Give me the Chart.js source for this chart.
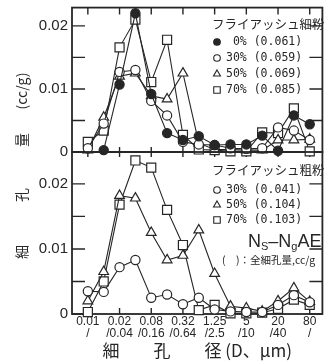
<!DOCTYPE html>
<html>
<head>
<meta charset="utf-8">
<script src="https://cdn.jsdelivr.net/npm/chart.js@4.4.1/dist/chart.umd.min.js"></script>
<style>
  html, body { margin: 0; padding: 0; background: #fff; overflow: hidden; }
  #wrap { position: relative; width: 326px; height: 361px; overflow: hidden; }
  canvas { position: absolute; left: 0; top: 0; }
</style>
</head>
<body>
<div id="wrap">
  <canvas id="fine" width="330" height="361"></canvas>
  <canvas id="coarse" width="330" height="361"></canvas>
</div>
<script>
// pore size bins (um), one point per bin
const bins = ['<0.01', '0.01-0.02', '0.02-0.04', '0.04-0.08', '0.08-0.16', '0.16-0.32', '0.32-0.64',
  '0.64-1.25', '1.25-2.5', '2.5-5', '5-10', '10-20', '20-40', '40-80', '>80'];
// labels under every second bin
const tickTop = ['0.01', '0.02', '0.08', '0.32', '1.25', '5', '20', '80'];
const tickBottom = ['/', '/0.04', '/0.16', '/0.64', '/2.5', '/10', '/40', '/'];

// fly ash, fine (cc/g)
const fineLabels = ['0%', '30%', '50%', '70%'];
const fineTotals = [0.061, 0.059, 0.069, 0.085];
const fine0 = [null, 0.0003, 0.0107, 0.0220, 0.0092, 0.0030, 0.0019, 0.0025, 0.0011, 0.0012, 0.0012, 0.0026, 0.0002, 0.0058, 0.0044];
const fine30 = [0.0006, 0.0045, 0.0127, 0.0130, 0.0081, 0.0058, 0.0016, 0.0012, 0.0011, 0.0006, 0.0005, 0.0006, 0.0039, 0.0034, 0.0019];
const fine50 = [0.0003, 0.0055, 0.0120, 0.0125, 0.0089, 0.0084, 0.0125, 0.0014, 0.0004, 0.0004, 0.0003, 0.0003, 0.0019, 0.0019, 0.0020];
const fine70 = [0.0016, 0.0034, 0.0166, 0.0210, 0.0111, 0.0178, 0.0027, 0.0004, 0.0003, 0.0001, 0.0001, 0.0031, 0.0030, 0.0069, 0.0001];

// fly ash, coarse (cc/g)
const coarseLabels = ['30%', '50%', '70%'];
const coarseTotals = [0.041, 0.104, 0.103];
const coarse30 = [0.0035, 0.0034, 0.0072, 0.0083, 0.0025, 0.0030, 0.0015, 0.0025, 0.0007, 0.0004, 0.0003, 0.0003, 0.0014, 0.0029, 0.0018];
const coarse50 = [0.0020, 0.0065, 0.0182, 0.0178, 0.0125, 0.0083, 0.0090, 0.0129, 0.0062, 0.0012, 0.0009, 0.0004, 0.0020, 0.0040, 0.0019];
const coarse70 = [0.0003, 0.0050, 0.0168, 0.0236, 0.0225, 0.0160, 0.0106, 0.0006, 0.0014, 0.0001, 0.0001, 0.0002, 0.0008, 0.0022, 0.0014];

const ink = '#262626';
const jp = '"Noto Sans CJK JP", sans-serif';

const markers = {
  '0%':  { style: 'circle',   r: 4.6, fill: ink },
  '30%': { style: 'circle',   r: 4.6, fill: '#fff' },
  '50%': { style: 'triangle', r: 5.6, fill: '#fff' },
  '70%': { style: 'rect',     r: 6.4, fill: '#fff' }
};

function series(label, total, values) {
  const m = markers[label];
  return {
    label: label,
    total: total,
    data: values.map((v, i) => ({ x: i, y: v })),
    borderColor: ink,
    borderWidth: 1.1,
    pointStyle: m.style,
    pointRadius: m.r,
    pointBackgroundColor: m.fill,
    pointBorderColor: ink,
    pointBorderWidth: 1.2,
    clip: false
  };
}

// box round the plot area, ticks pointing inwards
const frame = {
  id: 'frame',
  beforeDatasetsDraw(chart, args, o) {
    const { ctx, chartArea: a, scales } = chart;
    ctx.save();
    ctx.strokeStyle = ink;
    ctx.lineWidth = 1.8;
    ctx.strokeRect(a.left, a.top, a.right - a.left, a.bottom - a.top);
    ctx.lineWidth = 1.4;
    ctx.beginPath();
    scales.y.ticks.forEach(t => {
      const py = scales.y.getPixelForValue(t.value);
      ctx.moveTo(a.left, py); ctx.lineTo(a.left + 13, py);
      ctx.moveTo(a.right, py); ctx.lineTo(a.right - 13, py);
    });
    for (let i = 0; i < bins.length; i += 2) {
      const px = scales.x.getPixelForValue(i);
      ctx.moveTo(px, a.bottom + o.down); ctx.lineTo(px, a.bottom - o.up);
      if (o.top) { ctx.moveTo(px, a.top); ctx.lineTo(px, a.top + o.top); }
    }
    ctx.stroke();
    ctx.restore();
  }
};

const panelLegend = {
  id: 'panelLegend',
  afterDatasetsDraw(chart, args, o) {
    const ctx = chart.ctx;
    ctx.save();
    ctx.textBaseline = 'middle';
    ctx.textAlign = 'left';
    ctx.fillStyle = ink;
    ctx.strokeStyle = ink;
    ctx.font = '12.5px ' + jp;
    ctx.fillText(o.title, o.x, o.titleY, 113);
    chart.data.datasets.forEach((ds, i) => {
      const y = o.rowY + i * o.rowStep;
      ctx.lineWidth = 1.1;
      ctx.fillStyle = ds.pointBackgroundColor;
      Chart.helpers.drawPoint(ctx, { pointStyle: ds.pointStyle, radius: ds.pointRadius * 0.72, borderWidth: 1.1, rotation: 0 }, o.markerX, y);
      ctx.fillStyle = ink;
      ctx.font = '11.5px "DejaVu Sans Mono", monospace';
      ctx.fillText(ds.label.padStart(3) + ' (' + ds.total.toFixed(3) + ')', o.textX, y);
    });
    if (o.mix) {
      // Ns-NgAE with small subscripts
      let x = o.mix.x;
      ctx.textBaseline = 'alphabetic';
      o.mix.parts.forEach(p => {
        ctx.font = (p[1] ? '11px' : '18px') + ' "Liberation Sans", sans-serif';
        ctx.fillText(p[0], x, o.mix.y + (p[1] ? 3 : 0));
        x += ctx.measureText(p[0]).width;
      });
      ctx.textBaseline = 'middle';
      ctx.font = '10.5px ' + jp;
      ctx.fillText(o.note.text, o.note.x, o.note.y, o.note.w);
    }
    ctx.restore();
  }
};

// vertical axis title shared by both panels, read bottom to top
const sideTitle = {
  id: 'sideTitle',
  afterDraw(chart, args, o) {
    const ctx = chart.ctx;
    ctx.save();
    ctx.fillStyle = ink;
    ctx.font = '14px ' + jp;
    ctx.textAlign = 'center';
    ctx.textBaseline = 'middle';
    o.parts.forEach((p, i) => {
      ctx.save();
      ctx.translate(o.x, o.at[i]);
      ctx.rotate(-Math.PI / 2);
      ctx.fillText(p, 0, 0);
      ctx.restore();
    });
    ctx.restore();
  }
};

function yAxis(max) {
  return {
    min: 0,
    max: max,
    grid: { display: false, drawTicks: false },
    border: { display: false },
    ticks: {
      stepSize: 0.005,
      includeBounds: false,
      padding: 4,
      color: ink,
      font: { family: '"Liberation Sans", Arial, sans-serif', size: 15 },
      callback: v => {
        const k = Math.round(v * 1000);
        return k % 10 ? '' : (k ? v.toFixed(2) : '0');
      }
    },
    afterFit: s => { s.width = 72; s.paddingTop = 0; s.paddingBottom = 0; }
  };
}

function xAxis(showLabels, h) {
  return {
    type: 'linear',
    min: -1,
    max: 14.8,
    grid: { display: false, drawTicks: false },
    border: { display: false },
    ticks: {
      display: showLabels,
      stepSize: 1,
      autoSkip: false,
      maxRotation: 0,
      includeBounds: false,
      padding: 1,
      color: ink,
      font: { family: '"Liberation Sans Narrow", "Liberation Sans", sans-serif', size: 12, lineHeight: 1.05 },
      callback: v => {
        const i = Math.round(v);
        return (i >= 0 && i % 2 === 0) ? [tickTop[i / 2], tickBottom[i / 2]] : '';
      }
    },
    title: {
      display: showLabels,
      text: '細　　孔　　径 (D、μm)',
      color: ink,
      padding: 0,
      font: { family: jp, size: 17 }
    },
    afterFit: s => { s.height = h; s.paddingLeft = 0; s.paddingRight = 0; }
  };
}

/* upper panel: fine fly ash */
var fineChart = new Chart(document.getElementById('fine'), {
  type: 'line',
  data: {
    datasets: [
      series(fineLabels[0], fineTotals[0], fine0),
      series(fineLabels[1], fineTotals[1], fine30),
      series(fineLabels[2], fineTotals[2], fine50),
      series(fineLabels[3], fineTotals[3], fine70)
    ]
  },
  options: {
    responsive: false,
    animation: false,
    devicePixelRatio: 1,
    layout: { padding: { top: 5, bottom: 209, left: 0, right: 2 } },
    scales: { x: xAxis(false, 0), y: yAxis(0.0229) },
    plugins: {
      legend: { display: false },
      tooltip: { enabled: false },
      frame: { up: 5, down: 5, top: 7 },
      panelLegend: { title: 'フライアッシュ細粉', x: 212, titleY: 24, rowY: 42, rowStep: 16, markerX: 217, textX: 226 },
      sideTitle: { parts: ['細', '孔', '量', '(cc/g)'], at: [252, 195, 140, 91], x: 22 }
    }
  },
  plugins: [frame, panelLegend, sideTitle]
});

/* lower panel: coarse fly ash */
var coarseChart = new Chart(document.getElementById('coarse'), {
  type: 'line',
  data: {
    datasets: [
      series(coarseLabels[0], coarseTotals[0], coarse30),
      series(coarseLabels[1], coarseTotals[1], coarse50),
      series(coarseLabels[2], coarseTotals[2], coarse70)
    ]
  },
  options: {
    responsive: false,
    animation: false,
    devicePixelRatio: 1,
    layout: { padding: { top: 152, bottom: 0, left: 0, right: 2 } },
    scales: { x: xAxis(true, 47), y: yAxis(0.0249) },
    plugins: {
      legend: { display: false },
      tooltip: { enabled: false },
      frame: { up: 6, down: 0, top: 0 },
      panelLegend: {
        title: 'フライアッシュ粗粉', x: 212, titleY: 170, rowY: 190, rowStep: 15, markerX: 217, textX: 226,
        mix: { x: 248, y: 247, parts: [['N', 0], ['S', 1], ['–', 0], ['N', 0], ['g', 1], ['AE', 0]] },
        note: { text: '(　)：全細孔量,cc/g', x: 222, y: 260, w: 101 }
      }
    }
  },
  plugins: [frame, panelLegend]
});
</script>
</body>
</html>
